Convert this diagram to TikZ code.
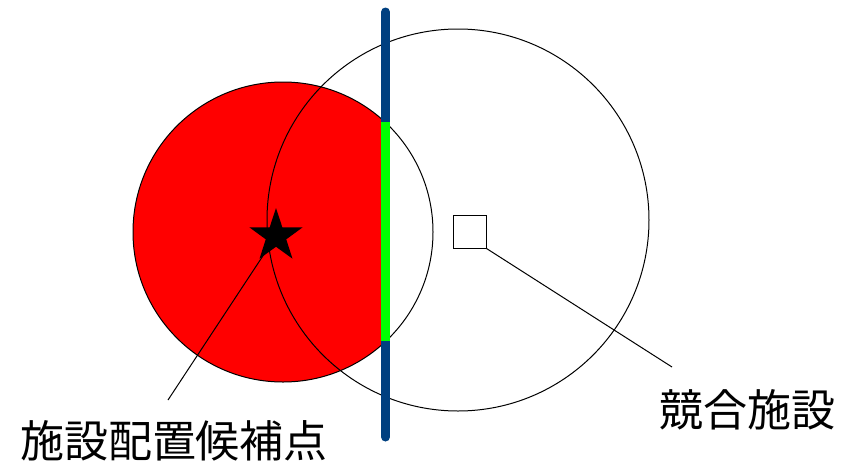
\documentclass[tikz,border=0pt]{standalone}
\usepackage{fontspec}
\newfontfamily\cjk{Noto Sans CJK JP}
\usetikzlibrary{shapes.geometric}
\definecolor{areared}{RGB}{255,0,0}
\definecolor{edgegreen}{RGB}{0,255,0}
\definecolor{roadblue}{RGB}{0,64,128}

\begin{document}
\begin{tikzpicture}[x=1pt, y=-1pt, line width=1pt, font=\cjk\fontsize{44}{48}\selectfont]
  \useasboundingbox (0,0) rectangle (844,464);

  % candidate area, cut off by the road
  \begin{scope}
    \clip (0,0) rectangle (385.5,464);
    \fill[areared] (283,232) circle[radius=150];
  \end{scope}
  \draw (283,232) circle[radius=150];
  \draw (458,220) circle[radius=191];

  % road and shared edge
  \draw[roadblue, line width=9pt, line cap=round] (385.5,12) -- (385.5,437);
  \draw[edgegreen, line width=9pt] (385.5,122) -- (385.5,341);

  \node[star, star points=5, star point ratio=2.6, fill=black, inner sep=0pt, minimum size=56pt] (cand) at (276,236) {};
  \node[rectangle, draw, fill=white, inner sep=0pt, minimum size=33pt] (rival) at (469.5,231.5) {};

  \node (candlabel) at (174,441) {施設配置候補点};
  \node (rivallabel) at (747.5,410) {競合施設};

  % leader lines
  \coordinate (candend) at (168,400);
  \coordinate (rivalend) at (672,367);
  \draw (cand.center) -- (candend);
  \draw (rival.south east) -- (rivalend);
\end{tikzpicture}
\end{document}
